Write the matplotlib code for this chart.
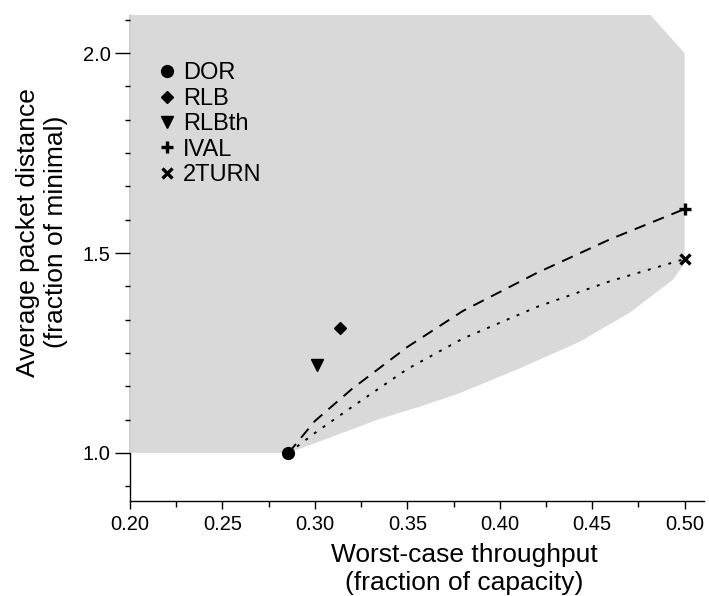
import matplotlib
matplotlib.use('Agg')
import matplotlib.pyplot as plt
from matplotlib.ticker import MultipleLocator, FixedLocator

plt.rcParams['font.family'] = ['Liberation Sans', 'DejaVu Sans']

# ---- data ----
scheme_names = ['DOR', 'RLB', 'RLBth', 'IVAL', '2TURN']
scheme_throughput = [0.2857, 0.3135, 0.301, 0.5, 0.5]
scheme_distance = [1.0, 1.312, 1.22, 1.61, 1.485]
scheme_markers = ['o', 'D', 'v', '+', 'x']

ival_curve_x = [0.2857, 0.30, 0.32, 0.35, 0.38, 0.42, 0.46, 0.50]
ival_curve_y = [1.0, 1.08, 1.16, 1.265, 1.355, 1.45, 1.535, 1.61]
twoturn_curve_x = [0.2857, 0.30, 0.32, 0.35, 0.38, 0.42, 0.46, 0.50]
twoturn_curve_y = [1.0, 1.05, 1.115, 1.21, 1.286, 1.365, 1.43, 1.485]

region_x = [0.2, 0.2857, 0.335, 0.3568, 0.378, 0.41, 0.4432, 0.47, 0.4935, 0.50, 0.50, 0.461, 0.2]
region_y = [1.0, 1.0, 1.085, 1.116, 1.149, 1.21, 1.278, 1.35, 1.4325, 1.474, 2.0, 2.2, 2.2]

x_major_ticks = [0.20, 0.25, 0.30, 0.35, 0.40, 0.45, 0.50]
x_tick_labels = ['0.20', '0.25', '0.30', '0.35', '0.40', '0.45', '0.50']
y_major_ticks = [1.0, 1.5, 2.0]
y_tick_labels = ['1.0', '1.5', '2.0']

# ---- figure ----
fig = plt.figure(figsize=(7.09, 5.96), dpi=100)
ax = fig.add_axes([0.1834, 0.1594, 0.8096, 0.8154])

ax.fill(region_x, region_y, color='#d9d9d9', lw=0, zorder=1)

ax.plot(ival_curve_x, ival_curve_y, color='black', lw=1.4,
        linestyle=(0, (6, 4.2)), zorder=3)
ax.plot(twoturn_curve_x, twoturn_curve_y, color='black', lw=1.4,
        linestyle=(0, (1.5, 4.0)), zorder=3)

sizes = {'o': 8.5, 'D': 5.8, 'v': 8.2, '+': 8.5, 'x': 7.0}
handles = []
for name, xv, yv, m in zip(scheme_names, scheme_throughput, scheme_distance, scheme_markers):
    h, = ax.plot([xv], [yv], linestyle='none', marker=m, color='black',
                 markersize=sizes[m], mew=2.4 if m in '+x' else 1.0,
                 label=name, zorder=4, clip_on=False)
    handles.append(h)

ax.set_xlim(0.2, 0.5105)
ax.set_ylim(0.88, 2.095)

for s in ['top', 'right']:
    ax.spines[s].set_visible(False)
for s in ['left', 'bottom']:
    ax.spines[s].set_zorder(0.5)
    ax.spines[s].set_linewidth(1.0)

ax.xaxis.set_major_locator(FixedLocator(x_major_ticks))
ax.set_xticklabels(x_tick_labels)
ax.xaxis.set_minor_locator(MultipleLocator(0.025))
ax.yaxis.set_major_locator(FixedLocator(y_major_ticks))
ax.set_yticklabels(y_tick_labels)
ax.yaxis.set_minor_locator(MultipleLocator(0.5 / 6))

ax.tick_params(axis='both', which='both', direction='out', colors='black', labelsize=14.5)
ax.tick_params(axis='x', which='major', length=6, width=1, pad=4)
ax.tick_params(axis='x', which='minor', length=4, width=1)
ax.tick_params(axis='y', which='major', length=10.5, width=1, pad=3.5)
ax.tick_params(axis='y', which='minor', length=3.6, width=1)

ax.set_xlabel('Worst-case throughput\n(fraction of capacity)', fontsize=19)
ax.set_ylabel('Average packet distance\n(fraction of minimal)', fontsize=19)
ax.xaxis.set_label_coords(0.582, -0.086)
ax.yaxis.set_label_coords(-0.108, 0.553)

leg = ax.legend(handles=handles, loc='upper left', bbox_to_anchor=(0.035, 0.922),
                frameon=False, fontsize=17, handlelength=0.6, handletextpad=0.4,
                labelspacing=0.145, borderaxespad=0, markerscale=1.0)

fig.savefig('out.png', dpi=100)
